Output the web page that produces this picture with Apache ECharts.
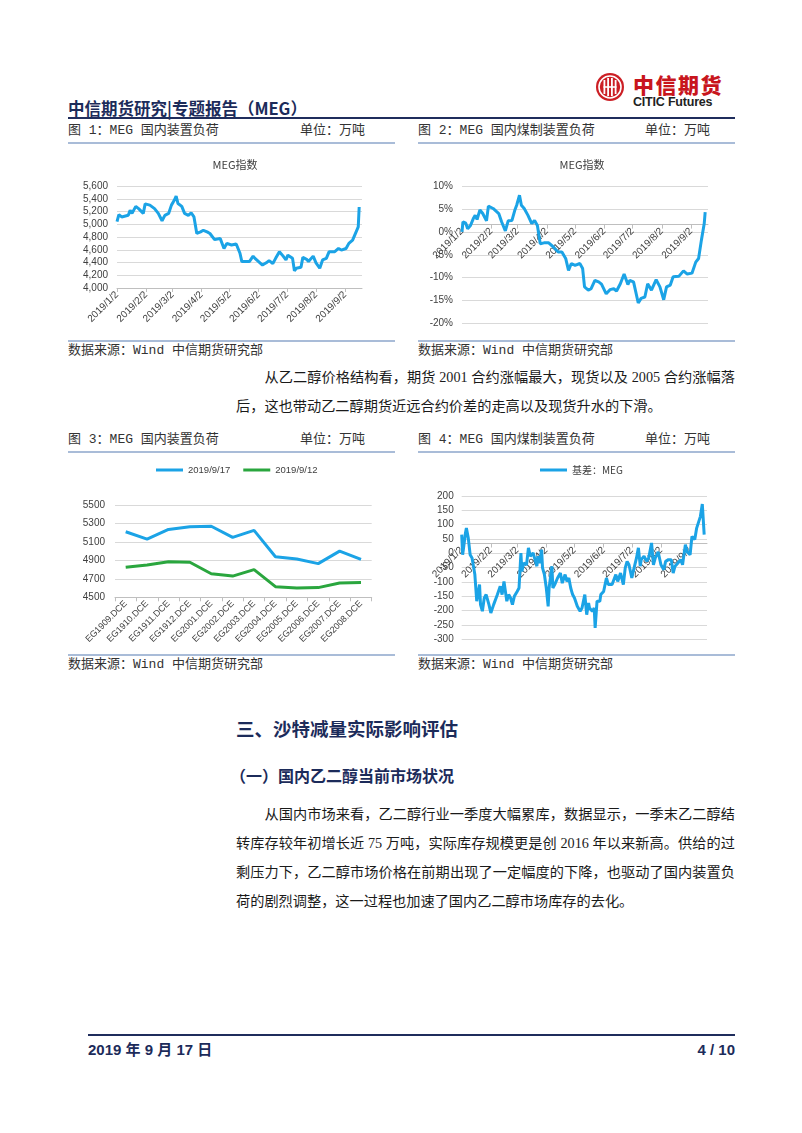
<!DOCTYPE html>
<html><head><meta charset="utf-8">
<script src="https://cdn.jsdelivr.net/npm/echarts@6/dist/echarts.min.js"></script>
<style>
body{margin:0;width:802px;height:1133px;background:#fff;position:relative;overflow:hidden;font-family:"Noto Sans CJK SC",sans-serif;color:#222;}
.abs{position:absolute;white-space:nowrap;}
.hl{position:absolute;height:2px;}
.ft{font-size:13px;line-height:16px;color:#333;font-family:"Liberation Mono","Noto Sans CJK SC",monospace;}
.body{position:absolute;left:236px;width:499px;font-size:14.2px;line-height:29px;font-family:"Liberation Serif","Noto Sans CJK SC",serif;color:#1a1a1a;}
.body div{text-align:justify;text-align-last:justify;white-space:nowrap;}
.body div.last{text-align-last:left;}
.ind{padding-left:2em;}
.chart{position:absolute;}
</style></head>
<body>
<script>
// ---------- data ----------
var monthTicks = ['2019/1/2','2019/2/2','2019/3/2','2019/4/2','2019/5/2','2019/6/2','2019/7/2','2019/8/2','2019/9/2'];

var dates1 = ['2019/1/2','2019/1/4','2019/1/7','2019/1/9','2019/1/14','2019/1/16','2019/1/18','2019/1/22','2019/1/25','2019/1/30',
 '2019/2/1','2019/2/6','2019/2/11','2019/2/15','2019/2/19','2019/2/22','2019/2/26',
 '2019/3/1','2019/3/4','2019/3/6','2019/3/8','2019/3/12','2019/3/15','2019/3/19','2019/3/22','2019/3/25','2019/3/28',
 '2019/4/1','2019/4/4','2019/4/8','2019/4/11','2019/4/16','2019/4/22','2019/4/26','2019/4/29',
 '2019/5/4','2019/5/9','2019/5/13','2019/5/15','2019/5/17','2019/5/23','2019/5/27','2019/5/29','2019/5/31',
 '2019/6/6','2019/6/10','2019/6/13','2019/6/17','2019/6/20','2019/6/24','2019/6/28',
 '2019/7/1','2019/7/3','2019/7/8','2019/7/10','2019/7/12','2019/7/17','2019/7/19','2019/7/23','2019/7/25','2019/7/30',
 '2019/8/2','2019/8/6','2019/8/9','2019/8/13','2019/8/16','2019/8/22','2019/8/26','2019/8/29',
 '2019/9/3','2019/9/6','2019/9/10','2019/9/12','2019/9/16','2019/9/17'];
var values1 = [5040,5150,5115,5090,5140,5220,5170,5280,5245,5170,
 5320,5300,5245,5170,5055,5140,5170,
 5300,5375,5440,5325,5280,5170,5140,5180,5115,4855,
 4880,4905,4880,4855,4760,4775,4620,4700,
 4675,4690,4545,4415,4395,4415,4500,4465,4465,
 4360,4395,4430,4385,4465,4570,4500,
 4440,4515,4465,4270,4310,4325,4480,4450,4415,4500,
 4395,4310,4440,4465,4570,4570,4620,4595,
 4620,4700,4750,4780,4960,5270];

var dates2 = ['2019/1/2','2019/1/3','2019/1/6','2019/1/8','2019/1/11','2019/1/14','2019/1/16','2019/1/18','2019/1/21','2019/1/24','2019/1/28','2019/1/30',
 '2019/2/4','2019/2/10','2019/2/13','2019/2/17','2019/2/20','2019/2/24','2019/2/27',
 '2019/3/1','2019/3/4','2019/3/6','2019/3/9','2019/3/13','2019/3/17','2019/3/20','2019/3/23','2019/3/26','2019/3/30',
 '2019/4/4','2019/4/9','2019/4/14','2019/4/18','2019/4/22','2019/4/25','2019/4/28',
 '2019/5/2','2019/5/7','2019/5/10','2019/5/12','2019/5/16','2019/5/19','2019/5/23','2019/5/27','2019/5/30',
 '2019/6/4','2019/6/8','2019/6/12','2019/6/15','2019/6/19','2019/6/23','2019/6/27','2019/6/29',
 '2019/7/3','2019/7/8','2019/7/11','2019/7/15','2019/7/18','2019/7/22','2019/7/27','2019/7/31',
 '2019/8/4','2019/8/7','2019/8/11','2019/8/14','2019/8/20','2019/8/25','2019/8/29',
 '2019/9/3','2019/9/7','2019/9/10','2019/9/13','2019/9/16','2019/9/17'];
var values2 = [0,2.2,1.9,0.7,1.4,2.9,3.6,2.7,4.8,4.0,2.4,5.6,
 5.1,4.0,2.2,0.2,2.4,2.5,4.7,
 5.8,8.0,5.8,5.1,3.6,1.8,2.5,1.4,-2.6,-2.4,
 -2.4,-3.3,-4.4,-4.4,-5.8,-8.4,-6.9,
 -7.3,-6.9,-8.0,-12.0,-12.7,-12.4,-10.6,-10.9,-11.4,
 -13.5,-12.6,-12.4,-12.9,-11.3,-9.2,-11.5,-10.6,
 -10.9,-15.5,-14.5,-14.2,-11.3,-12.7,-10.4,-12.0,
 -14.8,-12.0,-11.6,-9.8,-9.7,-8.5,-9.2,
 -9.0,-6.6,-5.8,-1.8,1.8,4.3];

var contracts = ['EG1909.DCE','EG1910.DCE','EG1911.DCE','EG1912.DCE','EG2001.DCE','EG2002.DCE','EG2003.DCE','EG2004.DCE','EG2005.DCE','EG2006.DCE','EG2007.DCE','EG2008.DCE'];
var curve0917 = [5210,5130,5235,5265,5270,5150,5225,4940,4915,4865,5000,4910];
var curve0912 = [4825,4850,4885,4880,4755,4730,4800,4615,4600,4605,4655,4660];

var dates4 = ['2019/1/2','2019/1/3','2019/1/4','2019/1/6','2019/1/7','2019/1/9','2019/1/11','2019/1/13','2019/1/14','2019/1/16','2019/1/18','2019/1/20','2019/1/21','2019/1/22','2019/1/24','2019/1/26','2019/1/28','2019/1/31',
 '2019/2/2','2019/2/5','2019/2/9','2019/2/12','2019/2/14','2019/2/16','2019/2/18','2019/2/19','2019/2/21','2019/2/23','2019/2/25','2019/2/27',
 '2019/3/2','2019/3/4','2019/3/6','2019/3/7','2019/3/9','2019/3/12','2019/3/14','2019/3/16','2019/3/19','2019/3/21','2019/3/23','2019/3/24','2019/3/26','2019/3/28','2019/3/29','2019/3/31',
 '2019/4/2','2019/4/4','2019/4/5','2019/4/8','2019/4/9','2019/4/11','2019/4/14','2019/4/17','2019/4/19','2019/4/22','2019/4/24','2019/4/26','2019/4/28','2019/4/30',
 '2019/5/2','2019/5/5','2019/5/8','2019/5/10','2019/5/13','2019/5/15','2019/5/17','2019/5/18','2019/5/21','2019/5/23','2019/5/24','2019/5/26','2019/5/29','2019/5/30',
 '2019/6/2','2019/6/5','2019/6/7','2019/6/11','2019/6/15','2019/6/17','2019/6/20','2019/6/23','2019/6/25','2019/6/27','2019/6/29',
 '2019/7/2','2019/7/4','2019/7/7','2019/7/9','2019/7/11','2019/7/12','2019/7/15','2019/7/18','2019/7/20','2019/7/23','2019/7/25','2019/7/27','2019/7/30',
 '2019/8/1','2019/8/2','2019/8/5','2019/8/7','2019/8/10','2019/8/13','2019/8/15','2019/8/17','2019/8/20','2019/8/23','2019/8/25','2019/8/26','2019/8/28','2019/8/30',
 '2019/9/2','2019/9/4','2019/9/7','2019/9/9','2019/9/11','2019/9/13','2019/9/15','2019/9/17'];
var values4 = [65,-5,19,71,88,53,-5,-16,-16,-74,-167,-173,-109,-179,-202,-156,-144,-179,
 -208,-179,-144,-115,-144,-98,-144,-167,-144,-156,-179,-150,
 -133,-121,1,-63,-34,-40,19,-10,1,-22,-45,-10,-34,13,-51,-74,
 -121,-185,-121,-45,-121,-109,-86,-69,-104,-74,-98,-86,-121,-144,
 -156,-185,-202,-191,-144,-214,-173,-191,-202,-191,-260,-167,-167,-144,
 -133,-86,-109,-109,-74,-98,-69,-109,-51,-28,-40,
 -86,-57,-16,19,-45,-22,-10,-28,-16,36,-40,-16,5,
 1,-40,-57,-28,-22,-22,-69,-45,-34,-22,-40,-16,30,5,
 -5,59,48,88,94,129,172,65];
</script>

<!-- header -->
<div class="abs" style="left:68px;top:97px;font-size:16.5px;line-height:22px;font-weight:bold;color:#1c2b5a;">中信期货研究|专题报告（MEG）</div>
<svg class="abs" style="left:595px;top:72px;" width="30" height="30" viewBox="0 0 30 30">
  <circle cx="15" cy="15" r="14" fill="#cc1f25"/>
  <circle cx="15" cy="15" r="11" fill="none" stroke="#fff" stroke-width="1.6"/>
  <rect x="8.5" y="8" width="1.8" height="14" fill="#fff"/>
  <rect x="12.2" y="6" width="1.8" height="18" fill="#fff"/>
  <rect x="16" y="6" width="1.8" height="18" fill="#fff"/>
  <rect x="19.7" y="8" width="1.8" height="14" fill="#fff"/>
  <rect x="8.5" y="14.2" width="13" height="1.6" fill="#fff"/>
</svg>
<div class="abs" style="left:633px;top:73px;font-size:21px;line-height:22px;font-weight:900;color:#c8161d;letter-spacing:1.5px;">中信期货</div>
<div class="abs" style="left:633px;top:96px;font-size:12.5px;line-height:12px;font-weight:bold;color:#222;font-family:'Liberation Sans',sans-serif;letter-spacing:-0.2px;">CITIC Futures</div>
<div class="hl" style="left:68px;top:117px;width:667px;background:#1f2d5c;"></div>

<!-- figure 1/2 titles -->
<div class="abs ft" style="left:68px;top:123px;">图 1：MEG 国内装置负荷</div>
<div class="abs ft" style="left:300px;top:123px;">单位：万吨</div>
<div class="abs ft" style="left:418px;top:123px;">图 2：MEG 国内煤制装置负荷</div>
<div class="abs ft" style="left:645px;top:123px;">单位：万吨</div>
<div class="hl" style="left:68px;top:142px;width:327px;background:#a9bcd8;"></div>
<div class="hl" style="left:418px;top:142px;width:317px;background:#a9bcd8;"></div>

<div id="c1" class="chart" style="left:60px;top:145px;width:340px;height:195px;"></div>
<div id="c2" class="chart" style="left:410px;top:145px;width:340px;height:195px;"></div>

<div class="hl" style="left:68px;top:340px;width:327px;background:#a9bcd8;"></div>
<div class="hl" style="left:418px;top:340px;width:317px;background:#a9bcd8;"></div>
<div class="abs ft" style="left:68px;top:343px;">数据来源：Wind 中信期货研究部</div>
<div class="abs ft" style="left:418px;top:343px;">数据来源：Wind 中信期货研究部</div>

<div class="body" style="top:363px;">
  <div class="ind">从乙二醇价格结构看，期货 2001 合约涨幅最大，现货以及 2005 合约涨幅落</div>
  <div class="last">后，这也带动乙二醇期货近远合约价差的走高以及现货升水的下滑。</div>
</div>

<!-- figure 3/4 titles -->
<div class="abs ft" style="left:68px;top:432px;">图 3：MEG 国内装置负荷</div>
<div class="abs ft" style="left:300px;top:432px;">单位：万吨</div>
<div class="abs ft" style="left:418px;top:432px;">图 4：MEG 国内煤制装置负荷</div>
<div class="abs ft" style="left:645px;top:432px;">单位：万吨</div>
<div class="hl" style="left:68px;top:451px;width:327px;background:#a9bcd8;"></div>
<div class="hl" style="left:418px;top:451px;width:317px;background:#a9bcd8;"></div>

<div id="c3" class="chart" style="left:60px;top:453px;width:340px;height:200px;"></div>
<div id="c4" class="chart" style="left:410px;top:453px;width:340px;height:200px;"></div>

<div class="hl" style="left:68px;top:654px;width:327px;background:#a9bcd8;"></div>
<div class="hl" style="left:418px;top:654px;width:317px;background:#a9bcd8;"></div>
<div class="abs ft" style="left:68px;top:657px;">数据来源：Wind 中信期货研究部</div>
<div class="abs ft" style="left:418px;top:657px;">数据来源：Wind 中信期货研究部</div>

<div class="abs" style="left:236px;top:716px;font-size:18.5px;line-height:24px;font-weight:bold;color:#1c2b5a;">三、沙特减量实际影响评估</div>
<div class="abs" style="left:230px;top:764px;font-size:16px;line-height:22px;font-weight:bold;color:#1c2b5a;">（一）国内乙二醇当前市场状况</div>

<div class="body" style="top:800px;">
  <div class="ind">从国内市场来看，乙二醇行业一季度大幅累库，数据显示，一季末乙二醇结</div>
  <div>转库存较年初增长近 75 万吨，实际库存规模更是创 2016 年以来新高。供给的过</div>
  <div>剩压力下，乙二醇市场价格在前期出现了一定幅度的下降，也驱动了国内装置负</div>
  <div class="last">荷的剧烈调整，这一过程也加速了国内乙二醇市场库存的去化。</div>
</div>

<!-- footer -->
<div class="hl" style="left:88px;top:1034px;width:647px;background:#1f2d5c;"></div>
<div class="abs" style="left:88px;top:1040px;font-size:15px;line-height:20px;font-weight:bold;color:#1c2b5a;font-family:'Liberation Sans','Noto Sans CJK SC',sans-serif;">2019 年 9 月 17 日</div>
<div class="abs" style="left:685px;width:50px;text-align:right;top:1040px;font-size:15px;line-height:20px;font-weight:bold;color:#1c2b5a;font-family:'Liberation Sans',sans-serif;">4 / 10</div>

<script>
function ts(s){var p=s.split('/');return new Date(+p[0],+p[1]-1,+p[2]).getTime();}
function fmtDate(v){var d=new Date(v);return d.getFullYear()+'/'+(d.getMonth()+1)+'/'+d.getDate();}
function pairs(ds,vs){return ds.map(function(d,i){return [ts(d),vs[i]];});}
var BLUE='#1ba3e6', GREEN='#2aa63e', GRID='#d9d9d9', AX='#bfbfbf', LAB='#404040';
var FONT='Liberation Sans';
var tickVals = monthTicks.map(ts);

function dateAxis(){
  return {type:'value', min:ts('2019/1/2'), max:ts('2019/9/20'), scale:true,
    axisLine:{show:true,onZero:false,lineStyle:{color:AX,width:1}},
    axisTick:{show:true,customValues:tickVals,length:4,lineStyle:{color:AX}},
    axisLabel:{customValues:tickVals,rotate:45,formatter:fmtDate,fontSize:10,color:LAB,fontFamily:FONT,margin:5},
    splitLine:{show:false}};
}
function valAxis(min,max,interval,fmt,margin){
  return {type:'value',min:min,max:max,interval:interval,
    axisLine:{show:false,onZero:false},axisTick:{show:false},
    axisLabel:{formatter:fmt,fontSize:10,color:LAB,fontFamily:FONT,margin:margin},
    splitLine:{lineStyle:{color:GRID,width:1}}};
}
function safeInit(id,opt,zeroAxis){
  try{
    var c=echarts.init(document.getElementById(id)); c.setOption(opt);
    if(zeroAxis){
      // move the date axis up to the y = 0 line (Excel "axis crosses at 0")
      var zeroY=c.convertToPixel({yAxisIndex:0},0);
      var bottom=opt.grid.top+opt.grid.height;
      c.setOption({xAxis:{offset:-(bottom-zeroY)}});
    }
  }catch(e){ console.error(id+': '+e.message); }
}
function plain(v){return String(v);}

// chart 1
safeInit('c1',{
  animation:false,
  title:{text:'MEG指数',left:170,top:9,textAlign:'center',textStyle:{fontSize:11,fontWeight:'normal',color:LAB,fontFamily:'Noto Sans CJK SC'}},
  grid:{left:57,top:41,width:245,height:102},
  xAxis:dateAxis(),
  yAxis:valAxis(4000,5600,200,function(v){return v.toLocaleString('en-US');},9),
  series:[{type:'line',data:pairs(dates1,values1),symbol:'none',lineStyle:{color:BLUE,width:3},itemStyle:{color:BLUE}}]
});

// chart 2
safeInit('c2',{
  animation:false,
  title:{text:'MEG指数',left:167,top:9,textAlign:'center',textStyle:{fontSize:11,fontWeight:'normal',color:LAB,fontFamily:'Noto Sans CJK SC'}},
  grid:{left:52,top:41,width:246,height:137.6},
  xAxis:dateAxis(),
  yAxis:valAxis(-20,10,5,function(v){return v+'%';},9),
  series:[{type:'line',data:pairs(dates2,values2),symbol:'none',lineStyle:{color:BLUE,width:3},itemStyle:{color:BLUE}}]
}, true);

// chart 3
safeInit('c3',{
  animation:false,
  legend:{left:96,top:12,itemWidth:27,itemHeight:3,itemGap:13,icon:'rect',padding:0,
    textStyle:{fontSize:9.5,color:LAB,fontFamily:FONT},
    data:['2019/9/17','2019/9/12']},
  grid:{left:55,top:52,width:256.7,height:92.3},
  xAxis:{type:'category',data:contracts,boundaryGap:true,
    axisLine:{lineStyle:{color:AX}},axisTick:{show:true,length:4,lineStyle:{color:AX}},
    axisLabel:{interval:0,rotate:45,fontSize:9,color:LAB,fontFamily:FONT,margin:5}},
  yAxis:valAxis(4500,5500,200,plain,10),
  series:[
    {name:'2019/9/17',type:'line',data:curve0917,symbol:'none',lineStyle:{color:BLUE,width:3},itemStyle:{color:BLUE}},
    {name:'2019/9/12',type:'line',data:curve0912,symbol:'none',lineStyle:{color:GREEN,width:3},itemStyle:{color:GREEN}}
  ]
});

// chart 4
safeInit('c4',{
  animation:false,
  legend:{left:130,top:12,itemWidth:27,itemHeight:3,itemGap:13,icon:'rect',padding:0,
    textStyle:{fontSize:10,color:LAB,fontFamily:'Noto Sans CJK SC'},data:['基差：MEG']},
  grid:{left:51.7,top:43,width:245.3,height:143.3},
  xAxis:dateAxis(),
  yAxis:valAxis(-300,200,50,plain,8),
  series:[{name:'基差：MEG',type:'line',data:pairs(dates4,values4),symbol:'none',lineStyle:{color:BLUE,width:3},itemStyle:{color:BLUE}}]
}, true);
</script>
</body></html>
